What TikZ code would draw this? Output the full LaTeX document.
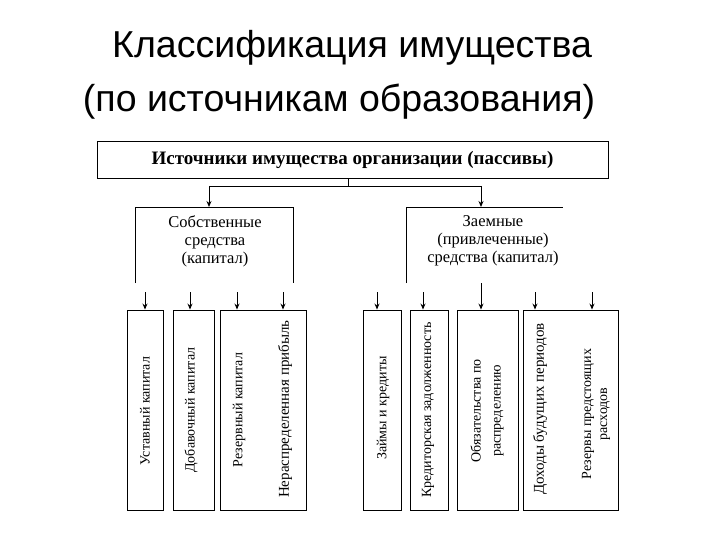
\documentclass[tikz,border=0pt]{standalone}
\usepackage{fontspec}
\setmainfont{Liberation Serif}
\newfontfamily\titlefont{Liberation Sans}
\usetikzlibrary{arrows.meta}
\begin{document}
\begin{tikzpicture}[x=1pt,y=-1pt,
  ln/.style={draw=black, line width=0.9pt},
  arr/.style={ln, -{Stealth[length=6pt,width=5pt]}},
  ttl/.style={font=\titlefont\fontsize{37.5}{45}\selectfont, anchor=base, inner sep=0pt},
  topbox/.style={draw=black, line width=0.9pt, minimum width=511pt, minimum height=37pt, inner sep=0pt, font=\bfseries\fontsize{19}{22}\selectfont},
  grp/.style={align=center, inner sep=0pt, font=\fontsize{16.5}{18}\selectfont},
  leaf/.style={draw=black, line width=0.9pt, minimum height=200pt, inner sep=0pt},
  vtxt/.style={rotate=90, align=center, inner sep=0pt, font=\fontsize{14}{19}\selectfont},
  vbig/.style={vtxt, font=\fontsize{15}{19}\selectfont}
]
\useasboundingbox (0,0) rectangle (720,540);

% title
\node[ttl] (t1) at (352,58) {Классификация имущества};
\node[ttl] (t2) at (339,112) {(по источникам образования)};

% top box
\node[topbox] (top) at (352.5,159.5) {Источники имущества организации (пассивы)};

% connectors to groups
\coordinate (hL) at (209,186);
\coordinate (hR) at (481,186);
\coordinate (gL) at (209,207);
\coordinate (gR) at (481,207);
\draw[ln] (top.south -| 348,0) -- (348,186);
\draw[ln] (hL) -- (hR);
\draw[arr] (hL) -- (gL);
\draw[arr] (hR) -- (gR);

% group: own
\node[grp] (own) at (215,241) {Собственные\\средства\\(капитал)};
\draw[ln] (135,283) -- (135,207) -- (293,207) -- (293,283);

% group: borrowed
\node[grp] (brw) at (493,241) {Заемные\\(привлеченные)\\средства (капитал)};
\draw[ln] (406,283) -- (406,207) -- (563,207);
\coordinate (mR) at (481,283);

% leaf boxes
\node[leaf, minimum width=36pt] (b1) at (145,410) {};
\node[leaf, minimum width=41pt] (b2) at (193.5,410) {};
\node[leaf, minimum width=86pt] (b3) at (263,410) {};
\node[leaf, minimum width=38pt] (b5) at (382,410) {};
\node[leaf, minimum width=38pt] (b6) at (429,410) {};
\node[leaf, minimum width=61pt] (b7) at (487.5,410) {};
\node[leaf, minimum width=95pt] (b8) at (570.5,410) {};

% leaf texts
\node[vtxt] (l1) at (145,411) {Уставный капитал};
\node[vtxt] (l2) at (191,410) {Добавочный капитал};
\node[vtxt] (l3) at (239,410) {Резервный капитал};
\node[vbig] (l4) at (285,409) {Нераспределенная прибыль};
\node[vtxt] (l5) at (383,408) {Займы и кредиты};
\node[vtxt] (l6) at (428,410) {Кредиторская задолженность};
\node[vtxt, font=\fontsize{14}{20}\selectfont] (l7) at (487,411) {Обязательства по\\распределению};
\node[vbig] (l8) at (540,409) {Доходы будущих периодов};
\node[vtxt, font=\fontsize{14}{16}\selectfont] (l9) at (596,414) {Резервы предстоящих\\расходов};

% arrows to leaves
\coordinate (a1) at (145,292);
\coordinate (a2) at (190,292);
\coordinate (a3) at (237,292);
\coordinate (a4) at (283,292);
\coordinate (a5) at (377,292);
\coordinate (a6) at (423,292);
\coordinate (a8) at (535,292);
\coordinate (a9) at (592,292);
\draw[arr] (a1) -- (b1.north -| a1);
\draw[arr] (a2) -- (b2.north -| a2);
\draw[arr] (a3) -- (b3.north -| a3);
\draw[arr] (a4) -- (b3.north -| a4);
\draw[arr] (a5) -- (b5.north -| a5);
\draw[arr] (a6) -- (b6.north -| a6);
\draw[arr] (mR) -- (b7.north -| mR);
\draw[arr] (a8) -- (b8.north -| a8);
\draw[arr] (a9) -- (b8.north -| a9);
\end{tikzpicture}
\end{document}
